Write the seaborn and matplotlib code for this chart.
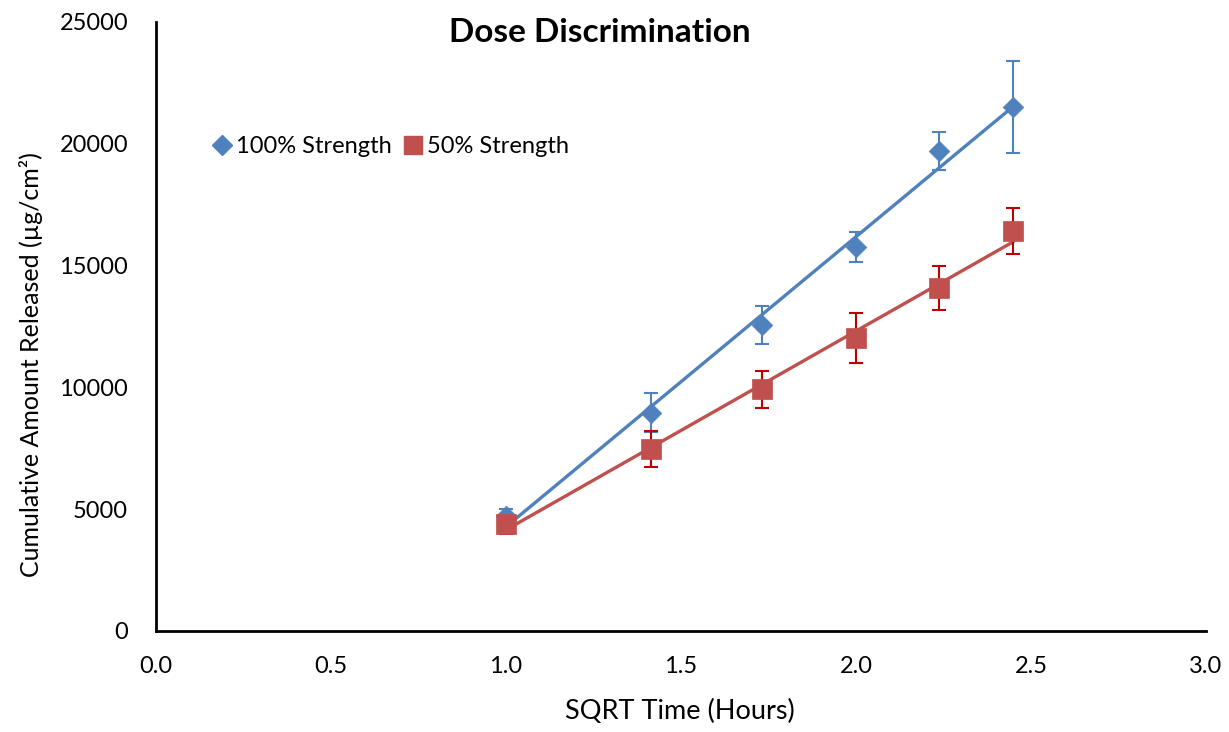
import numpy as np
import pandas as pd
import matplotlib
matplotlib.use("Agg")
import matplotlib.pyplot as plt
import seaborn as sns
from matplotlib.lines import Line2D

# Data
sqrt_time = [1.0, 1.414, 1.732, 2.0, 2.236, 2.449]
strength100 = [4700, 8950, 12560, 15760, 19700, 21510]
strength100_err = [300, 800, 800, 600, 780, 1870]
strength50 = [4400, 7470, 9930, 12030, 14080, 16420]
strength50_err = [420, 720, 760, 1020, 900, 960]
series_names = ["100% Strength", "50% Strength"]
x_ticks = [0.0, 0.5, 1.0, 1.5, 2.0, 2.5, 3.0]
y_ticks = [0, 5000, 10000, 15000, 20000, 25000]

blue = "#4F81BD"
red = "#C0504D"
red_err = "#C00000"

sns.set_style("white")
plt.rcParams["font.family"] = ["Lato", "DejaVu Sans"]
plt.rcParams["text.color"] = "black"
plt.rcParams["axes.labelcolor"] = "black"
plt.rcParams["xtick.color"] = "black"
plt.rcParams["ytick.color"] = "black"

fig = plt.figure(figsize=(12.29, 7.32), dpi=100)
ax = fig.add_axes([0.1269, 0.138, 0.8544, 0.832])

df100 = pd.DataFrame({"x": sqrt_time, "y": strength100})
df50 = pd.DataFrame({"x": sqrt_time, "y": strength50})

# Trendlines
sns.regplot(data=df100, x="x", y="y", scatter=False, ci=None, truncate=True,
            line_kws=dict(color=blue, lw=2.4, zorder=2), ax=ax)
sns.regplot(data=df50, x="x", y="y", scatter=False, ci=None, truncate=True,
            line_kws=dict(color=red, lw=2.4, zorder=2), ax=ax)

# Error bars
ax.errorbar(sqrt_time, strength100, yerr=strength100_err, fmt="none",
            ecolor=blue, elinewidth=1.5, capsize=5, capthick=1.5, zorder=3)
ax.errorbar(sqrt_time, strength50, yerr=strength50_err, fmt="none",
            ecolor=red_err, elinewidth=1.5, capsize=5, capthick=1.5, zorder=3)

# Markers
sns.scatterplot(data=df100, x="x", y="y", marker="D", s=110, color=blue,
                edgecolor=blue, linewidth=0.5, ax=ax, zorder=4)
sns.scatterplot(data=df50, x="x", y="y", marker="s", s=210, color=red,
                edgecolor=red, linewidth=0.5, ax=ax, zorder=5)

ax.set_xlim(0, 3.0)
ax.set_ylim(0, 25000)
ax.set_xticks(x_ticks)
ax.set_xticklabels([f"{t:.1f}" for t in x_ticks])
ax.set_yticks(y_ticks)
ax.set_yticklabels([str(t) for t in y_ticks])

for s in ["top", "right"]:
    ax.spines[s].set_visible(False)
for s in ["left", "bottom"]:
    ax.spines[s].set_linewidth(2.0)
    ax.spines[s].set_color("black")

ax.tick_params(axis="x", direction="out", length=6, width=2.0, labelsize=17, pad=12)
ax.tick_params(axis="y", direction="out", length=5, width=2.0, labelsize=17, pad=15)

ax.set_xlabel("SQRT Time (Hours)", fontsize=19.5)
ax.xaxis.set_label_coords(0.499, -0.112)
ax.set_ylabel("Cumulative Amount Released (µg/cm²)", fontsize=18)
ax.yaxis.set_label_coords(-0.108, 0.437)
ax.set_title("Dose Discrimination", fontsize=24, fontweight="bold", x=0.423, y=0.953)

handles = [
    Line2D([], [], marker="D", color=blue, linestyle="none", markersize=10),
    Line2D([], [], marker="s", color=red, linestyle="none", markersize=13),
]
ax.legend(handles, series_names, loc="center left", bbox_to_anchor=(0.04, 0.795),
          ncol=2, frameon=False, fontsize=17, handletextpad=0.1, columnspacing=0.4,
          handlelength=1.0, borderpad=0)

fig.savefig("out.png", dpi=100)
